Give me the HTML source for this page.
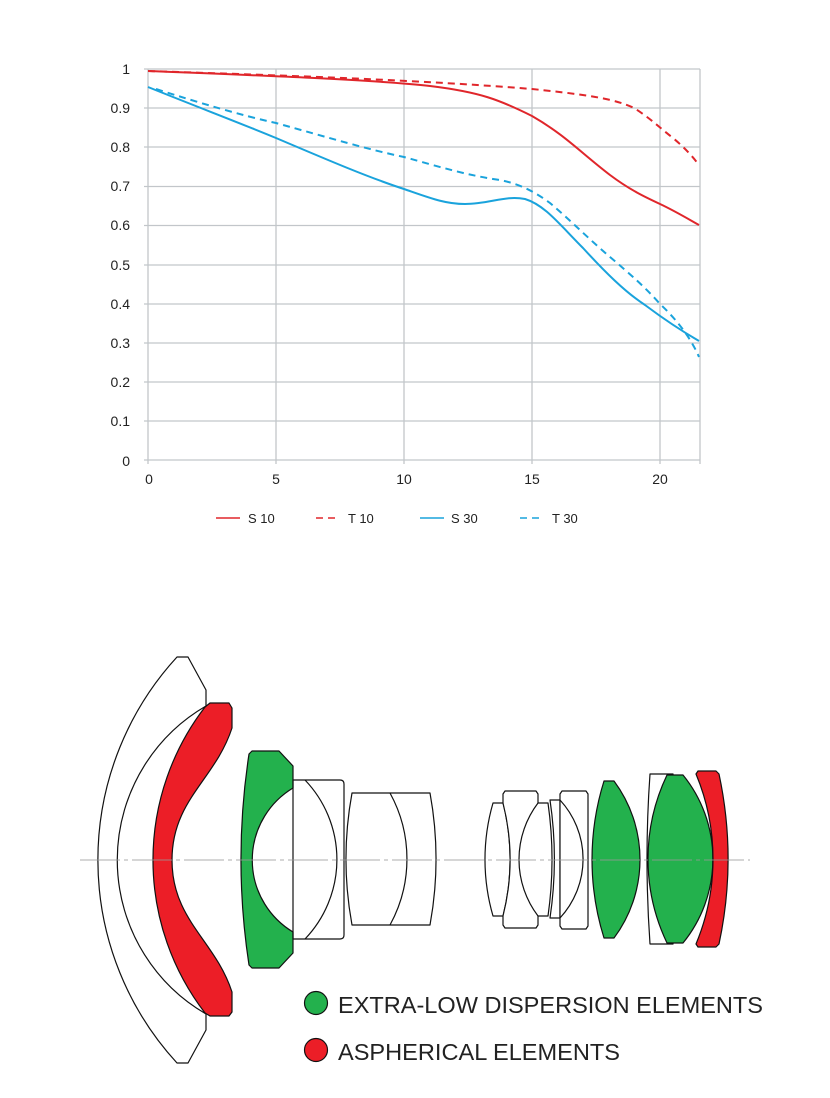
<!DOCTYPE html>
<html><head><meta charset="utf-8"><style>
html,body{margin:0;padding:0;background:#fff;}
svg{display:block;font-family:"Liberation Sans",Arial,sans-serif;}
</style></head><body>
<svg width="830" height="1098" viewBox="0 0 830 1098" xmlns="http://www.w3.org/2000/svg">
<g stroke="#c2c6ca" stroke-width="1.3">
<line x1="144" y1="69" x2="700" y2="69"/><line x1="144" y1="108" x2="700" y2="108"/>
<line x1="144" y1="147" x2="700" y2="147"/><line x1="144" y1="186.5" x2="700" y2="186.5"/>
<line x1="144" y1="225.5" x2="700" y2="225.5"/><line x1="144" y1="265" x2="700" y2="265"/>
<line x1="144" y1="304" x2="700" y2="304"/><line x1="144" y1="343" x2="700" y2="343"/>
<line x1="144" y1="382" x2="700" y2="382"/><line x1="144" y1="421" x2="700" y2="421"/>
<line x1="144" y1="460" x2="700" y2="460"/>
<line x1="148" y1="69" x2="148" y2="464"/><line x1="276" y1="69" x2="276" y2="464"/>
<line x1="404" y1="69" x2="404" y2="464"/><line x1="532" y1="69" x2="532" y2="464"/>
<line x1="660" y1="69" x2="660" y2="464"/><line x1="700" y1="69" x2="700" y2="464"/>
</g>
<g font-size="14" fill="#222" text-anchor="end">
<text x="130" y="74">1</text><text x="130" y="113">0.9</text><text x="130" y="152">0.8</text>
<text x="130" y="191">0.7</text><text x="130" y="230">0.6</text><text x="130" y="270">0.5</text>
<text x="130" y="309">0.4</text><text x="130" y="348">0.3</text><text x="130" y="387">0.2</text>
<text x="130" y="426">0.1</text><text x="130" y="466">0</text>
</g>
<g font-size="14" fill="#222" text-anchor="middle">
<text x="149" y="484">0</text><text x="276" y="484">5</text><text x="404" y="484">10</text>
<text x="532" y="484">15</text><text x="660" y="484">20</text>
</g>
<g fill="none" stroke-width="2">
<path d="M148,71 C250,75 380,80 430,86 C480,92 500,100 532,116 C565,135 580,152 610,175 C630,190 645,197 660,204 C675,211 690,220 699,225" stroke="#e0262b"/>
<path d="M148,71 C300,76 420,80 532,89 C590,95 615,99 634,108 C650,118 660,128 673,138 C685,148 693,157 699,165" stroke="#e0262b" stroke-dasharray="7,5"/>
<path d="M148,87 C200,108 240,123 276,138 C330,161 370,178 404,189 C430,198 445,204 465,204 C490,204 505,195 525,199 C545,205 560,225 583,248 C605,272 625,292 645,305 C665,320 680,330 699,341" stroke="#1aa3dc"/>
<path d="M156,89 C200,103 240,115 276,123 C330,138 370,150 404,157 C440,167 470,176 500,180 C520,184 535,192 550,203 C570,220 590,240 610,257 C630,274 645,287 660,304 C675,318 690,336 699,357" stroke="#1aa3dc" stroke-dasharray="7,5"/>
</g>
<g stroke-width="1.5">
<line x1="216" y1="518" x2="240" y2="518" stroke="#e0262b"/>
<line x1="316" y1="518" x2="340" y2="518" stroke="#e0262b" stroke-dasharray="7,5"/>
<line x1="420" y1="518" x2="444" y2="518" stroke="#1aa3dc"/>
<line x1="520" y1="518" x2="544" y2="518" stroke="#1aa3dc" stroke-dasharray="7,5"/>
</g>
<g font-size="13" fill="#222">
<text x="248" y="523">S 10</text><text x="348" y="523">T 10</text>
<text x="451" y="523">S 30</text><text x="552" y="523">T 30</text>
</g>
<!-- lens diagram -->
<g stroke="#111" stroke-width="1.2" stroke-linejoin="round">
<path d="M177,657 L188,657 L206,690 L206,706 A178,178 0 0 0 206,1014 L206,1030 L188,1063 L177,1063 A300,300 0 0 1 177,657 Z" fill="#fff"/>
<path d="M210,703 L229,703 L232,708 L232,728 C215,780 172,800 172,860 C172,920 215,940 232,992 L232,1012 L229,1016 L210,1016 L205,1013 A251,251 0 0 1 205,707 Z" fill="#ec1e27"/>
<path d="M252,751 L279,751 L293,766 L293,788 A84,84 0 0 0 293,932 L293,953 L279,968 L252,968 L249,965 A700,700 0 0 1 249,754 Z" fill="#23b14d"/>
<path d="M293,780 L340,780 Q344,780 344,784 L344,935 Q344,939 340,939 L293,939 Z" fill="none"/>
<path d="M305,780 A115,115 0 0 1 305,939" fill="none"/>
<path d="M352,793 L430,793 A366,366 0 0 1 430,925 L352,925 A366,366 0 0 1 352,793 Z" fill="none"/>
<path d="M390,793 A137,137 0 0 1 390,925" fill="none"/>
<path d="M493,803 L503,803 A231,231 0 0 1 503,916 L493,916 A203,203 0 0 1 493,803 Z" fill="#fff"/>
<path d="M505,791 L536,791 L538,794 L538,925 L536,928 L505,928 L503,925 L503,916 A231,231 0 0 0 503,803 L503,794 Z" fill="#fff"/>
<path d="M538,803 L548,803 A400,400 0 0 1 548,916 L538,916 A93.5,93.5 0 0 1 538,803 Z" fill="#fff"/>
<path d="M550,800 L560,800 L560,918 L550,918 A400,400 0 0 0 550,800 Z" fill="#fff"/>
<path d="M562,791 L586,791 L588,794 L588,926 L586,929 L562,929 L560,926 L560,794 Z" fill="#fff"/>
<path d="M560,800 A87,87 0 0 1 560,918" fill="none"/>
<path d="M604,781 L614,781 A131.5,131.5 0 0 1 614,938 L604,938 A263,263 0 0 1 604,781 Z" fill="#23b14d"/>
<path d="M650,774 L673,774 L673,944 L650,944 A1205,1205 0 0 1 650,774 Z" fill="#fff"/>
<path d="M667,775 L683,775 A133,133 0 0 1 683,943 L667,943 A195,195 0 0 1 667,775 Z" fill="#23b14d"/>
<path d="M698,771 L716,771 L719,774 A406,406 0 0 1 719,944 L716,947 L698,947 L696,944 A221,221 0 0 0 696,774 Z" fill="#ec1e27"/>
</g>
<line x1="80" y1="860" x2="750" y2="860" stroke="#999" stroke-width="1" opacity="0.8" stroke-dasharray="40,4,4,4"/>
<circle cx="316" cy="1003" r="11.5" fill="#23b14d" stroke="#111" stroke-width="1.2"/>
<circle cx="316" cy="1050" r="11.5" fill="#ec1e27" stroke="#111" stroke-width="1.2"/>
<g font-size="23" fill="#222">
<text x="338" y="1013" textLength="425" lengthAdjust="spacingAndGlyphs">EXTRA-LOW DISPERSION ELEMENTS</text>
<text x="338" y="1060" textLength="282" lengthAdjust="spacingAndGlyphs">ASPHERICAL ELEMENTS</text>
</g>
</svg>
</body></html>
